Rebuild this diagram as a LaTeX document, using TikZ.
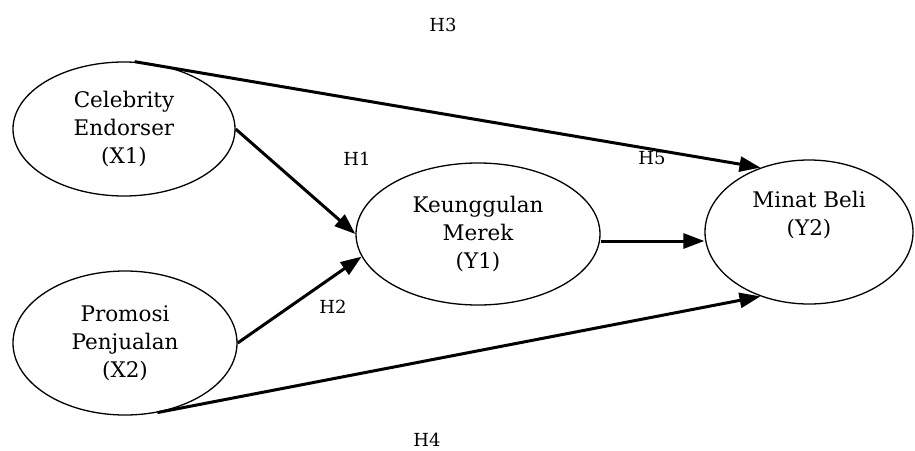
\documentclass[tikz,border=0pt]{standalone}
\usepackage{fontspec}
\setmainfont{DejaVu Serif}
\usetikzlibrary{shapes.geometric,arrows.meta}
\begin{document}
\begin{tikzpicture}[x=1pt,y=-1pt,
  construct/.style={ellipse,draw,line width=1.3pt,inner sep=0pt,
    align=center,font=\fontsize{21.5}{28}\selectfont},
  path/.style={line width=3pt,-{Triangle[length=21pt,width=15pt]}},
  hyp/.style={font=\fontsize{18}{20}\selectfont}]
  \useasboundingbox (0,0) rectangle (915,450);
  % latent constructs
  \node[construct,minimum width=222pt,minimum height=134pt] (x1) at (124,129) {Celebrity\\Endorser\\(X1)};
  \node[construct,minimum width=224pt,minimum height=144pt] (x2) at (125,343) {Promosi\\Penjualan\\(X2)};
  \node[construct,minimum width=244pt,minimum height=142pt] (y1) at (478,234) {Keunggulan\\Merek\\(Y1)};
  \node[construct,minimum width=208pt,minimum height=144pt] (y2) at (809,232) {Minat Beli\\(Y2)\\\strut};
  % hypothesised paths
  \draw[path] (x1.81) -- (y2.127);
  \draw[path] (x1.east) -- (y1.180);
  \draw[path] (x2.east) -- (y1.191);
  \draw[path] (x2.295) -- (y2.233);
  \draw[path] (y1.east |- 0,241) -- (y2.west |- 0,241);
  % hypothesis labels
  \node[hyp] (h3) at (443,25) {H3};
  \node[hyp] (h1) at (357,159) {H1};
  \node[hyp] (h5) at (652,158) {H5};
  \node[hyp] (h2) at (333,307) {H2};
  \node[hyp] (h4) at (427,440) {H4};
\end{tikzpicture}
\end{document}
